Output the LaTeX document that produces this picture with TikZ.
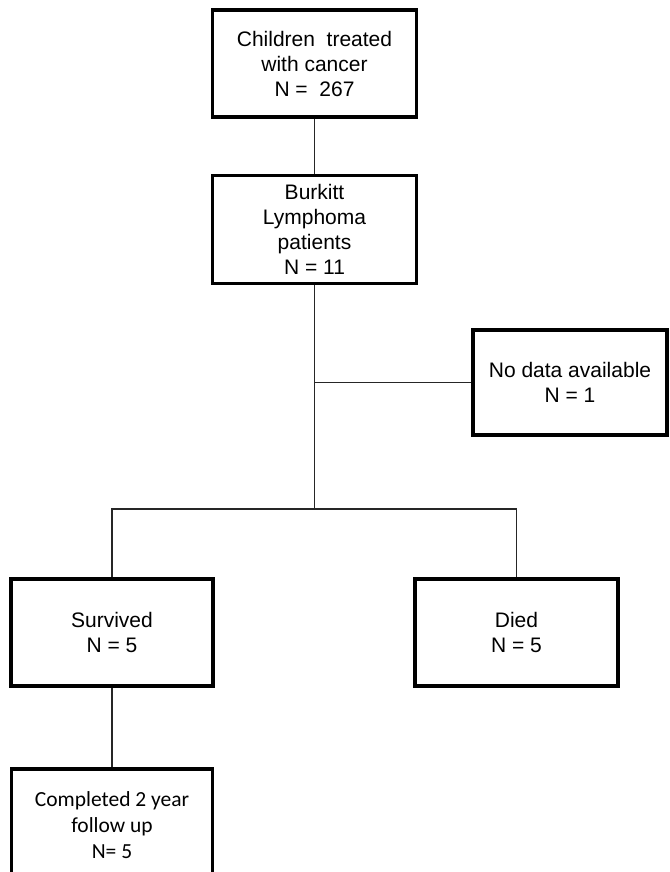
\documentclass[tikz,border=0pt]{standalone}
\usepackage{fontspec}
\setmainfont{Liberation Sans}
\newfontfamily\carlito{Carlito}
\usetikzlibrary{positioning}

\begin{document}
\begin{tikzpicture}[x=1pt,y=-1pt,
box/.style={draw=black,line width=3.6pt,fill=white,align=center,inner sep=0pt,
  minimum width=204pt,minimum height=107pt,font=\fontsize{21}{25}\selectfont},
link/.style={draw=black!85,line width=1.4pt}]
\clip (0,0) rectangle (669,872);
\node[box] (treated) at (314.5,63.5) {Children~ treated\\with cancer\\N =~ 267};
\node[box,minimum height=108pt] (burkitt) at (314.5,229.5) {Burkitt\\Lymphoma\\patients\\N = 11};
\node[box,minimum width=194pt,minimum height=105pt] (nodata) at (570,382.5) {No data available\\N = 1};
\node[box,minimum width=202pt] (survived) at (112,632.5) {Survived\\N = 5};
\node[box,minimum width=203pt] (died) at (516.5,632.5) {Died\\N = 5};
\node[box,minimum width=201pt,minimum height=112pt,font=\carlito\fontsize{21.5}{26}\selectfont] (followup) at (112,825)
{Completed 2 year\\follow up\\N= 5};
\coordinate (excl) at (burkitt.south |- nodata.west);
\coordinate (split) at (314.5,509);
\draw[link] (treated)--(burkitt);
\draw[link] (burkitt)--(split);
\draw[link] (excl)--(nodata);
\draw[link] (split) -| (survived.north);
\draw[link] (split) -| (died.north);
\draw[link] (survived)--(followup);
\end{tikzpicture}
\end{document}
